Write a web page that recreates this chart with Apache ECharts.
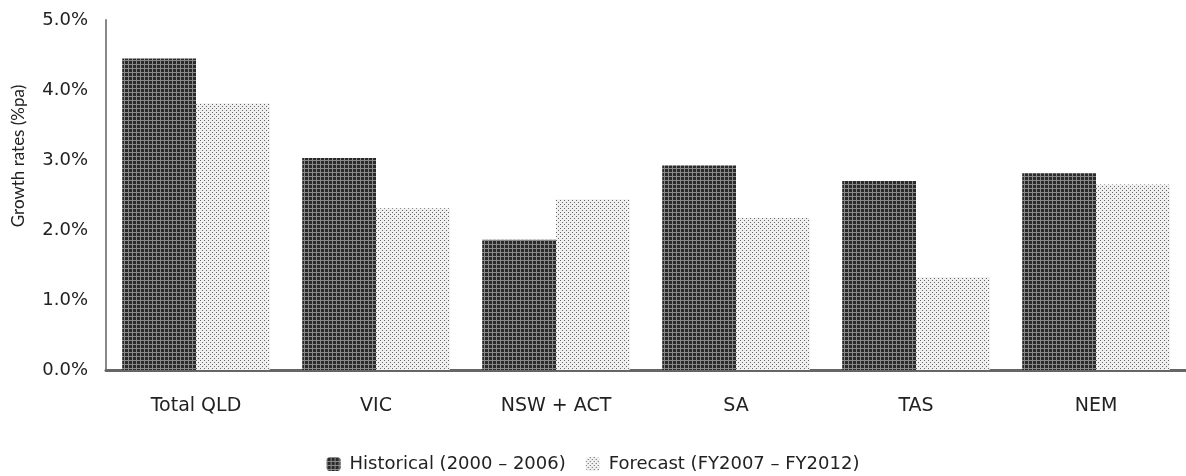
<!DOCTYPE html>
<html>
<head>
<meta charset="utf-8">
<script src="https://cdn.jsdelivr.net/npm/echarts@6/dist/echarts.min.js"></script>
<style>
  html, body { margin: 0; padding: 0; background: #fff; }
  #chart { width: 1186px; height: 476px; }
</style>
</head>
<body>
<div id="chart"></div>
<script>
// Regions and average annual growth rates (%pa)
const regions = ['Total QLD', 'VIC', 'NSW + ACT', 'SA', 'TAS', 'NEM'];
const historical = [4.45, 3.03, 1.86, 2.92, 2.70, 2.81];
const forecast = [3.81, 2.31, 2.44, 2.17, 1.33, 2.65];
const yTicks = [0, 1, 2, 3, 4, 5];
const seriesNames = ['Historical (2000 – 2006)', 'Forecast (FY2007 – FY2012)'];
const yTitle = 'Growth rates (%pa)';

// Small tiled textures for the two bar fills
function makePattern(bg, fg, draw) {
  const c = document.createElement('canvas');
  c.width = 4; c.height = 4;
  const g = c.getContext('2d');
  g.fillStyle = bg; g.fillRect(0, 0, 4, 4);
  g.fillStyle = fg;
  draw(g);
  return c;
}
const darkGrid = makePattern('#2a2a2a', '#8a8a8a', g => {
  g.fillRect(0, 0, 4, 1);
  g.fillRect(0, 0, 1, 4);
});
const lightDots = makePattern('#f0f0f0', '#666666', g => {
  g.fillRect(0, 0, 1, 1);
  g.fillRect(2, 2, 1, 1);
});

const font = 'DejaVu Sans';
const chart = echarts.init(document.getElementById('chart'));
chart.setOption({
  animation: false,
  textStyle: { fontFamily: font },
  grid: { left: 106, right: 0, top: 20, bottom: 106 },
  graphic: [{
    type: 'text',
    x: 19,
    y: 156,
    rotation: Math.PI / 2,
    style: {
      text: yTitle,
      fontFamily: 'Lato, Roboto, sans-serif',
      fontSize: 17,
      fill: '#222',
      align: 'center',
      verticalAlign: 'middle'
    }
  }],
  legend: {
    top: 450,
    left: 'center',
    itemWidth: 14,
    itemHeight: 14,
    itemGap: 20,
    textStyle: { fontFamily: font, fontSize: 18, color: '#222', padding: [0, 0, 0, 4] },
    data: seriesNames
  },
  xAxis: {
    type: 'category',
    data: regions,
    axisLine: { lineStyle: { color: '#666', width: 3 } },
    axisTick: { show: false },
    axisLabel: { fontFamily: font, fontSize: 19, color: '#222', margin: 27 }
  },
  yAxis: {
    type: 'value',
    min: yTicks[0],
    max: yTicks[yTicks.length - 1],
    interval: 1,
    axisLine: { show: true, lineStyle: { color: '#888', width: 2 } },
    axisTick: { show: false },
    splitLine: { show: false },
    axisLabel: {
      fontFamily: font, fontSize: 18, color: '#222', margin: 18,
      formatter: v => v.toFixed(1) + '%'
    }
  },
  series: [
    {
      name: seriesNames[0],
      type: 'bar',
      data: historical,
      barWidth: '41%',
      barGap: '0%',
      itemStyle: { color: { image: darkGrid, repeat: 'repeat' } }
    },
    {
      name: seriesNames[1],
      type: 'bar',
      data: forecast,
      barWidth: '41%',
      itemStyle: { color: { image: lightDots, repeat: 'repeat' } }
    }
  ]
});
</script>
</body>
</html>
